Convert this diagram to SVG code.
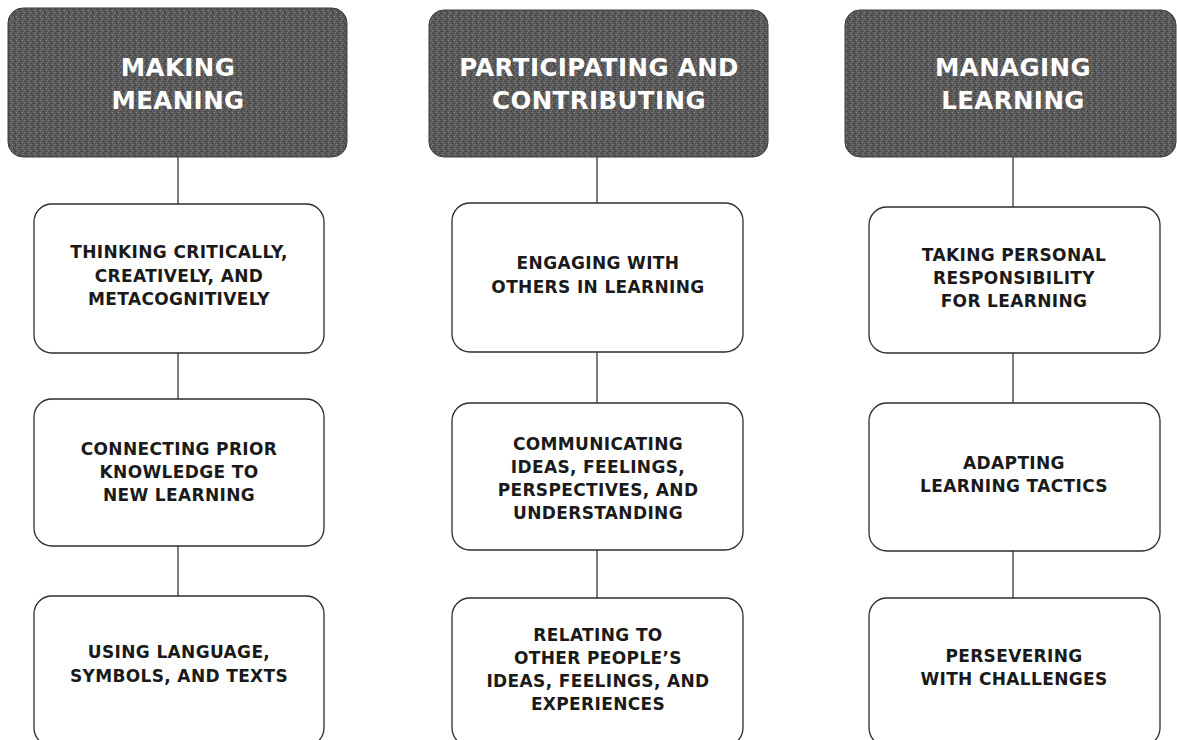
<svg xmlns="http://www.w3.org/2000/svg" width="1177" height="740" viewBox="0 0 1177 740">
<defs>
<pattern id="grain" width="6" height="6" patternUnits="userSpaceOnUse">
<rect width="6" height="6" fill="#5a5a5a"/>
<rect x="0" y="0" width="1" height="1" fill="#8a8a8a"/>
<rect x="3" y="1" width="1" height="1" fill="#333333"/>
<rect x="1" y="3" width="1" height="1" fill="#3a3a3a"/>
<rect x="4" y="4" width="1" height="1" fill="#858585"/>
<rect x="5" y="2" width="1" height="1" fill="#7a7a7a"/>
<rect x="2" y="5" width="1" height="1" fill="#383838"/>
</pattern>
</defs>
<style>
.hdr{fill:url(#grain);stroke:#3a3a3a;stroke-width:1}
.box{fill:#ffffff;stroke:#2e2e2e;stroke-width:1.3}
.ht{font-family:"DejaVu Sans","Liberation Sans",sans-serif;font-weight:bold;font-size:24.5px;letter-spacing:0.4px;fill:#ffffff;text-anchor:middle}
.bt{font-family:"DejaVu Sans","Liberation Sans",sans-serif;font-weight:bold;font-size:17px;letter-spacing:0.35px;fill:#1a1a1a;text-anchor:middle}
.con line{stroke:#3a3a3a;stroke-width:1.3}
</style>
<rect width="1177" height="740" fill="#ffffff"/>
<g id="connectors" class="con">
<line x1="178" y1="157" x2="178" y2="204"/>
<line x1="178" y1="353" x2="178" y2="399"/>
<line x1="178" y1="546" x2="178" y2="596"/>
<line x1="597" y1="157" x2="597" y2="203"/>
<line x1="597" y1="352" x2="597" y2="403"/>
<line x1="597" y1="550" x2="597" y2="598"/>
<line x1="1013" y1="157" x2="1013" y2="207"/>
<line x1="1013" y1="353" x2="1013" y2="403"/>
<line x1="1013" y1="551" x2="1013" y2="598"/>
</g>
<g id="h-making-meaning">
<rect class="hdr" x="8" y="8" width="339" height="149" rx="15"/>
<text class="ht" x="178" y="76">MAKING</text>
<text class="ht" x="178" y="109">MEANING</text>
</g>
<g id="h-participating">
<rect class="hdr" x="429" y="10" width="339" height="147" rx="15"/>
<text class="ht" x="599" y="76">PARTICIPATING AND</text>
<text class="ht" x="599" y="109">CONTRIBUTING</text>
</g>
<g id="h-managing">
<rect class="hdr" x="845" y="10" width="331" height="147" rx="15"/>
<text class="ht" x="1013" y="76">MANAGING</text>
<text class="ht" x="1013" y="109">LEARNING</text>
</g>
<g id="n-thinking">
<rect class="box" x="34" y="204" width="290" height="149" rx="18"/>
<text class="bt" x="179" y="258">THINKING CRITICALLY,</text>
<text class="bt" x="179" y="282">CREATIVELY, AND</text>
<text class="bt" x="179" y="305">METACOGNITIVELY</text>
</g>
<g id="n-connecting">
<rect class="box" x="34" y="399" width="290" height="147" rx="18"/>
<text class="bt" x="179" y="455">CONNECTING PRIOR</text>
<text class="bt" x="179" y="478">KNOWLEDGE TO</text>
<text class="bt" x="179" y="501">NEW LEARNING</text>
</g>
<g id="n-using">
<rect class="box" x="34" y="596" width="290" height="150" rx="18"/>
<text class="bt" x="179" y="658">USING LANGUAGE,</text>
<text class="bt" x="179" y="682">SYMBOLS, AND TEXTS</text>
</g>
<g id="n-engaging">
<rect class="box" x="452" y="203" width="291" height="149" rx="18"/>
<text class="bt" x="598" y="269">ENGAGING WITH</text>
<text class="bt" x="598" y="293">OTHERS IN LEARNING</text>
</g>
<g id="n-communicating">
<rect class="box" x="452" y="403" width="291" height="147" rx="18"/>
<text class="bt" x="598" y="450">COMMUNICATING</text>
<text class="bt" x="598" y="473">IDEAS, FEELINGS,</text>
<text class="bt" x="598" y="496">PERSPECTIVES, AND</text>
<text class="bt" x="598" y="519">UNDERSTANDING</text>
</g>
<g id="n-relating">
<rect class="box" x="452" y="598" width="291" height="148" rx="18"/>
<text class="bt" x="598" y="641">RELATING TO</text>
<text class="bt" x="598" y="664">OTHER PEOPLE’S</text>
<text class="bt" x="598" y="687">IDEAS, FEELINGS, AND</text>
<text class="bt" x="598" y="710">EXPERIENCES</text>
</g>
<g id="n-taking">
<rect class="box" x="869" y="207" width="291" height="146" rx="18"/>
<text class="bt" x="1014" y="261">TAKING PERSONAL</text>
<text class="bt" x="1014" y="284">RESPONSIBILITY</text>
<text class="bt" x="1014" y="307">FOR LEARNING</text>
</g>
<g id="n-adapting">
<rect class="box" x="869" y="403" width="291" height="148" rx="18"/>
<text class="bt" x="1014" y="469">ADAPTING</text>
<text class="bt" x="1014" y="492">LEARNING TACTICS</text>
</g>
<g id="n-persevering">
<rect class="box" x="869" y="598" width="291" height="148" rx="18"/>
<text class="bt" x="1014" y="662">PERSEVERING</text>
<text class="bt" x="1014" y="685">WITH CHALLENGES</text>
</g>
</svg>
